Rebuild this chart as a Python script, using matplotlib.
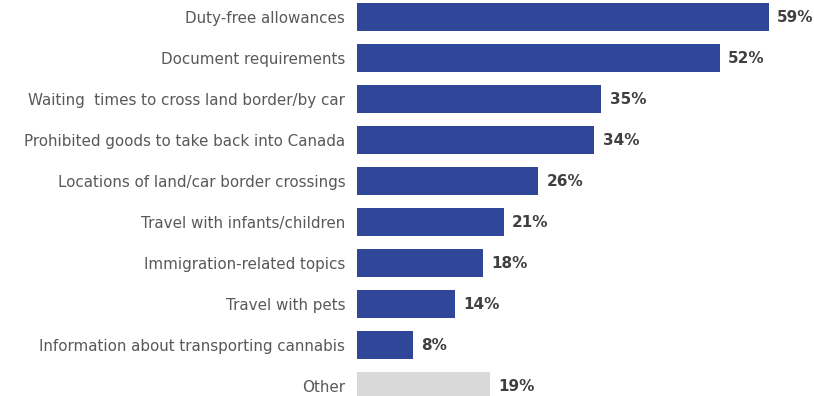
import matplotlib.pyplot as plt

# Topics travellers looked up before crossing the border
topics = ["Duty-free allowances",
          "Document requirements",
          "Waiting  times to cross land border/by car",
          "Prohibited goods to take back into Canada",
          "Locations of land/car border crossings",
          "Travel with infants/children",
          "Immigration-related topics",
          "Travel with pets",
          "Information about transporting cannabis",
          "Other"]
shares = [59, 52, 35, 34, 26, 21, 18, 14, 8, 19]

blue = '#2F4699'
grey = '#D9D9D9'
colors = [blue] * (len(topics) - 1) + [grey]

fig = plt.figure(figsize=(8.14, 3.96), dpi=100)
ax = fig.add_axes([357 / 814, 0, 457 / 814, 1])

pos = list(range(len(topics)))
ax.barh(pos, shares, height=0.68, color=colors)

for y, v in zip(pos, shares):
    ax.annotate(f"{v}%", (v, y), xytext=(6, 0), textcoords='offset points',
                va='center', ha='left', fontsize=11, fontweight='bold',
                color='#404040')

ax.set_yticks(pos)
ax.set_yticklabels(topics, fontsize=10.9, color='#595959')
ax.tick_params(axis='y', length=0, pad=8.5)
ax.set_xticks([])
ax.set_xlim(0, 65.5)
ax.set_ylim(9.24, -0.415)
for s in ax.spines.values():
    s.set_visible(False)

fig.savefig('out.png', dpi=100)
